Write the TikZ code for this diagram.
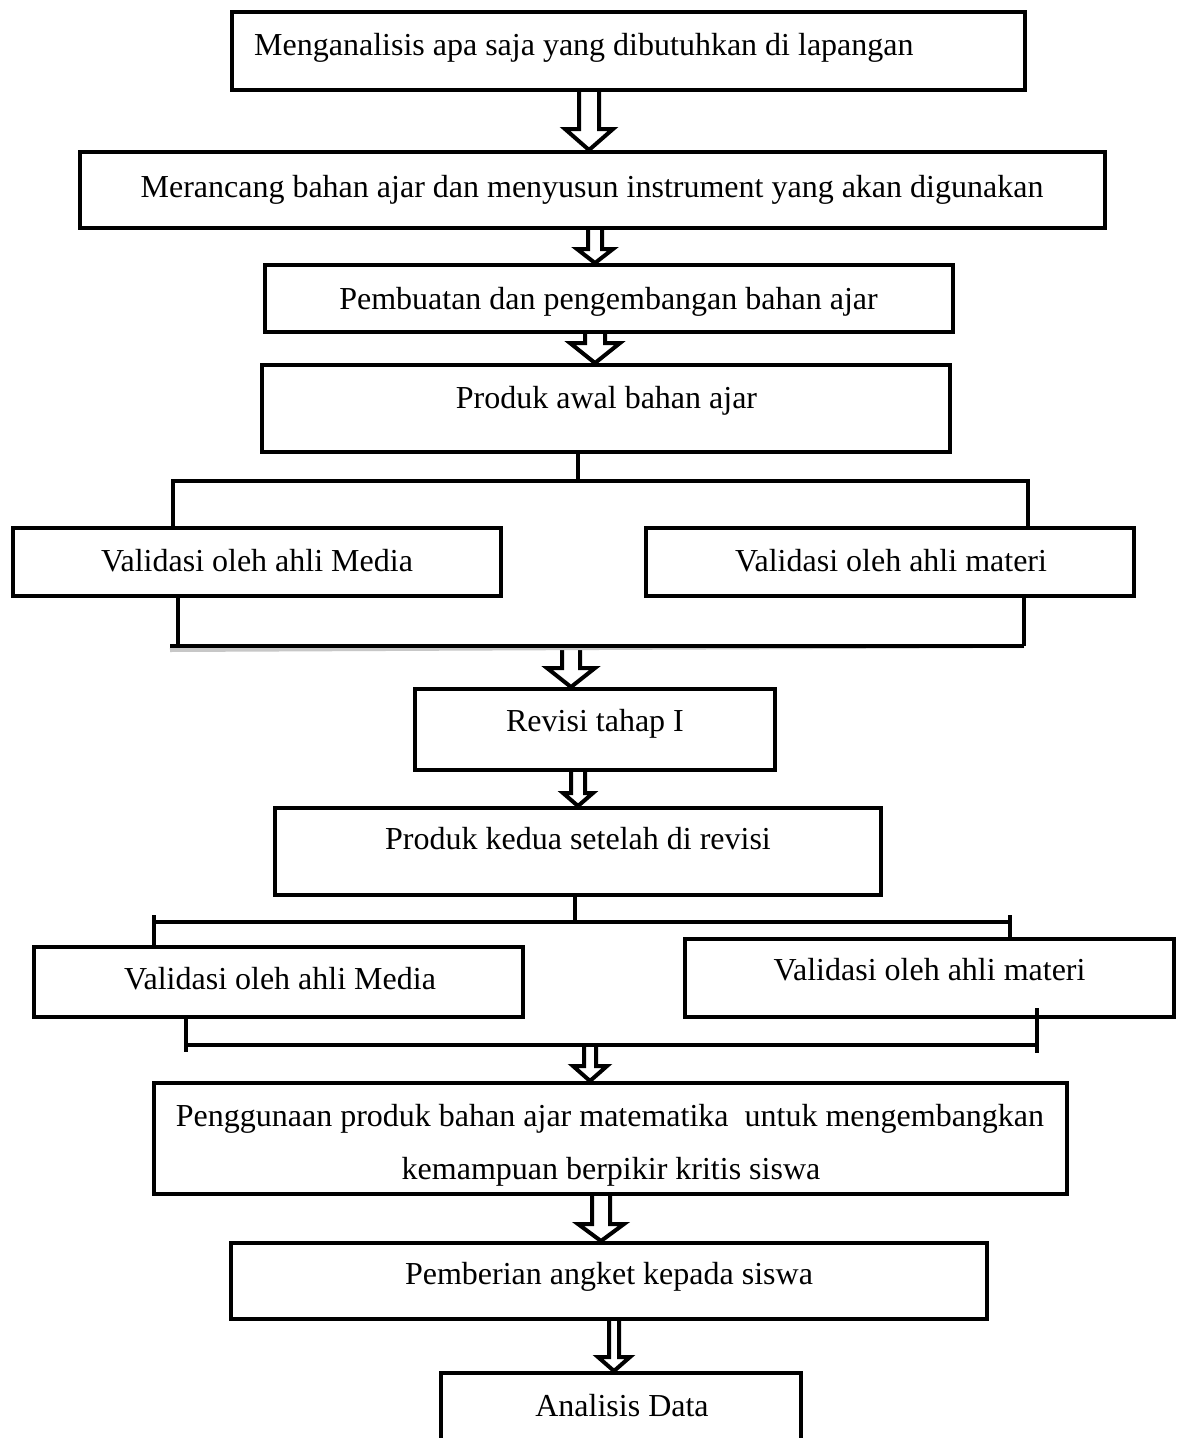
\documentclass[tikz,border=0pt]{standalone}
\usepackage{fontspec}
\setmainfont{Liberation Serif}
\usetikzlibrary{calc}

\tikzset{
  box/.style={draw, line width=4pt, inner sep=0pt, rectangle},
  txt/.style={font=\fontsize{32}{52}\selectfont, inner sep=0pt, anchor=base},
  harrow/.style={draw, fill=white, line width=4pt, line join=miter},
  link/.style={line width=4pt},
  linkshade/.style={line width=4pt, draw=black!22, yshift=-4pt},
}

% hollow block arrow: #1 start point, #2 end point (tip), #3 x position,
% #4 shaft half width, #5 head half width, #6 head length
\newcommand\hollowarrow[6]{%
  \path[harrow] let \p1=#1, \p2=#2 in
    ({#3pt-#4pt},\y1) -- ({#3pt-#4pt},{\y2+#6pt}) -- ({#3pt-#5pt},{\y2+#6pt})
    -- (#3pt,\y2) -- ({#3pt+#5pt},{\y2+#6pt}) -- ({#3pt+#4pt},{\y2+#6pt})
    -- ({#3pt+#4pt},\y1);
}

\begin{document}
\begin{tikzpicture}[x=1pt,y=-1pt]
\useasboundingbox (0,0) rectangle (1176,1438);
\clip (0,0) rectangle (1176,1438);
\fill[white] (0,0) rectangle (1176,1438);

% process boxes
\node[box, minimum width=793pt, minimum height=78pt]  (b1) at (628.5,51) {};
\node[box, minimum width=1025pt, minimum height=76pt] (b2) at (592.5,190) {};
\node[box, minimum width=688pt, minimum height=67pt]  (b3) at (609,298.5) {};
\node[box, minimum width=688pt, minimum height=87pt]  (b4) at (606,408.5) {};
\node[box, minimum width=488pt, minimum height=68pt]  (v1) at (257,562) {};
\node[box, minimum width=488pt, minimum height=68pt]  (v2) at (890,562) {};
\node[box, minimum width=360pt, minimum height=81pt]  (b5) at (595,729.5) {};
\node[box, minimum width=606pt, minimum height=87pt]  (b6) at (578,851.5) {};
\node[box, minimum width=489pt, minimum height=70pt]  (v3) at (278.5,982) {};
\node[box, minimum width=489pt, minimum height=78pt]  (v4) at (929.5,978) {};
\node[box, minimum width=913pt, minimum height=111pt] (b7) at (610.5,1138.5) {};
\node[box, minimum width=756pt, minimum height=76pt]  (b8) at (609,1281) {};
\node[box, minimum width=360pt, minimum height=94pt]  (b9) at (621,1420) {};

% labels
\node[txt, anchor=base west] (t1) at (254,55) {Menganalisis apa saja yang dibutuhkan di lapangan};
\node[txt] (t2) at (592,197) {Merancang bahan ajar dan menyusun instrument yang akan digunakan};
\node[txt] (t3) at (608.5,309) {Pembuatan dan pengembangan bahan ajar};
\node[txt] (t4) at (606.5,408) {Produk awal bahan ajar};
\node[txt] (t5) at (257,571) {Validasi oleh ahli Media};
\node[txt] (t6) at (891,571) {Validasi oleh ahli materi};
\node[txt] (t7) at (595,731) {Revisi tahap I};
\node[txt] (t8) at (578,849) {Produk kedua setelah di revisi};
\node[txt] (t9) at (280,989) {Validasi oleh ahli Media};
\node[txt] (t10) at (929.5,980) {Validasi oleh ahli materi};
\node[txt] (t11) at (610,1126) {Penggunaan produk bahan ajar matematika\ \ untuk mengembangkan};
\node[txt] (t12) at (611,1179) {kemampuan berpikir kritis siswa};
\node[txt] (t13) at (609,1284) {Pemberian angket kepada siswa};
\node[txt] (t14) at (622,1416) {Analisis Data};

% junction points of the branch lines
\coordinate (j1) at (578,481);
\coordinate (s1L) at (173,481);
\coordinate (s1R) at (1028,481);
\coordinate (m1L) at (178,646);
\coordinate (m1R) at (1024,646);
\coordinate (m1) at (571,646);
\coordinate (j2) at (575,922);
\coordinate (s2L) at (154,922);
\coordinate (s2R) at (1010,922);
\coordinate (m2L) at (186,1045);
\coordinate (m2R) at (1037,1045);
\coordinate (m2) at (590,1045);

% block arrows
\hollowarrow{(b1.south)}{(b2.north)}{589}{10}{24}{21}
\hollowarrow{(b2.south)}{(b3.north)}{595}{7}{18}{14}
\hollowarrow{(b3.south)}{(b4.north)}{595}{10}{25}{20}
\hollowarrow{(m1)}{(b5.north)}{571}{9}{24}{19}
\hollowarrow{(b5.south)}{(b6.north)}{578}{7}{15}{13}
\hollowarrow{(m2)}{(b7.north)}{590}{6}{17}{15}
\hollowarrow{(b7.south)}{(b8.north)}{601}{9}{23}{17}
\hollowarrow{(b8.south)}{(b9.north)}{614}{5}{16}{14}

% first branch: split and merge
\draw[linkshade] (s1L) -- (s1R);
\draw[linkshade] (170,646) -- (m1R);
\draw[link] (j1 |- b4.south) -- (j1);
\draw[link] (s1L |- v1.north) -- (s1L) -- (s1R) -- (s1R |- v2.north);
\draw[link] (m1L |- v1.south) -- (m1L);
\draw[link] (m1R |- v2.south) -- (m1R);
\draw[link] (170,646) -- (m1R);

% second branch: split and merge
\draw[linkshade] (s2L) -- (s2R);
\draw[linkshade] (m2L) -- (m2R);
\draw[link] (j2 |- b6.south) -- (j2);
\draw[link] (154,915) -- (s2L |- v3.north);
\draw[link] (s2L) -- (s2R);
\draw[link] (1010,915) -- (s2R |- v4.north);
\draw[link] (m2L |- v3.south) -- (186,1052);
\draw[link] (m2L) -- (m2R);
\draw[link] (1037,1008) -- (1037,1053);
\end{tikzpicture}
\end{document}
